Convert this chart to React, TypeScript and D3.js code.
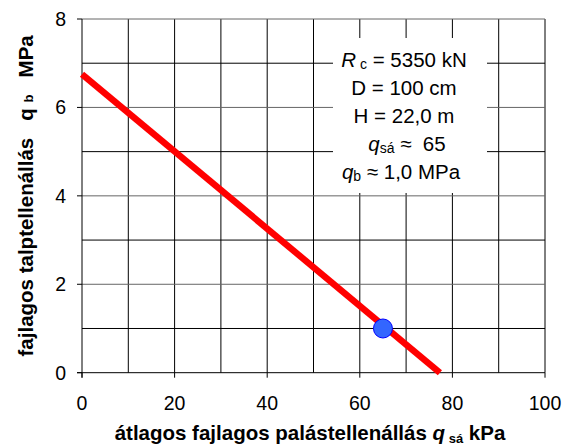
import React from 'react';
import * as d3 from 'd3';

// line: q_b vs q_sá
const lineX = [0, 77.3];
const lineY = [6.75, 0];
const pointX = [65];
const pointY = [1.0];
const xTicks = [0, 20, 40, 60, 80, 100];
const yTicks = [0, 2, 4, 6, 8];

const W = 571;
const H = 446;
const left = 82;
const right = 545;
const top = 19;
const bottom = 372.7;

export default function App() {
  const x = d3.scaleLinear().domain([0, 100]).range([left, right]);
  const y = d3.scaleLinear().domain([0, 8]).range([bottom, top]);
  const font = 'Liberation Sans, Arial, sans-serif';
  const line = d3.line<number>().x((d, i) => x(lineX[i])).y((d, i) => y(lineY[i]));

  const vGrid = d3.range(10, 101, 10);
  const hGrid = d3.range(1, 9, 1);

  return (
    <div style={{ position: 'absolute', left: 0, top: 0 }}>
      <svg width={W} height={H} style={{ display: 'block', fontFamily: font }}>
        <rect width={W} height={H} fill="#fff" />
        {vGrid.map(v => (
          <line key={'v' + v} x1={x(v)} x2={x(v)} y1={top} y2={bottom} stroke="#000" strokeWidth={1} />
        ))}
        {hGrid.map(v => (
          <line key={'h' + v} x1={left} x2={right} y1={y(v)} y2={y(v)} stroke={v % 2 === 0 ? '#666' : '#000'} strokeWidth={1} />
        ))}
        {/* axes */}
        <line x1={left} x2={left} y1={top} y2={bottom + 5} stroke="#000" />
        <line x1={left - 5} x2={right} y1={bottom} y2={bottom} stroke="#000" />
        {yTicks.map(t => (
          <g key={'yt' + t}>
            <line x1={left - 5} x2={left} y1={y(t)} y2={y(t)} stroke="#000" />
            <text x={left - 16} y={y(t)} dy="0.36em" textAnchor="end" fontSize={19.5}>{t}</text>
          </g>
        ))}
        {xTicks.map(t => (
          <g key={'xt' + t}>
            <line x1={x(t)} x2={x(t)} y1={bottom} y2={bottom + 5} stroke="#000" />
            <text x={x(t)} y={410} textAnchor="middle" fontSize={19.5}>{t}</text>
          </g>
        ))}
        {/* text box */}
        <rect x={333} y={38} width={154} height={155} fill="#fff" />
        <g fontSize={20.5} textAnchor="middle">
          <text x={404} y={67}><tspan fontStyle="italic">R</tspan><tspan fontSize={14} dy={2}> c</tspan><tspan dy={-2}> = 5350 kN</tspan></text>
          <text x={404} y={95}>D = 100 cm</text>
          <text x={404} y={123}>H = 22,0 m</text>
          <text x={407} y={151} style={{ whiteSpace: 'pre' }}><tspan fontStyle="italic">q</tspan><tspan fontSize={14} dy={2}>sá</tspan><tspan dy={-2}> ≈  65</tspan></text>
          <text x={401} y={179}><tspan fontStyle="italic">q</tspan><tspan fontSize={14} dy={2}>b</tspan><tspan dy={-2}> ≈ 1,0 MPa</tspan></text>
        </g>
        {/* series */}
        <path d={line(lineX) || ''} fill="none" stroke="#ff0000" strokeWidth={6.5} />
        {pointX.map((p, i) => (
          <circle key={i} cx={x(p)} cy={y(pointY[i])} r={9.5} fill="#3366ff" stroke="#0000ff" strokeWidth={1} />
        ))}
        {/* axis titles */}
        <text x={310} y={440} textAnchor="middle" fontSize={20.5} fontWeight="bold" style={{ whiteSpace: 'pre' }}>
          átlagos fajlagos palástellenállás <tspan fontStyle="italic">q</tspan><tspan fontSize={13} dy={3}> sá</tspan><tspan dy={-3}> kPa</tspan>
        </text>
        <text transform={`translate(${33},${(top + bottom) / 2}) rotate(-90)`} textAnchor="middle" fontSize={20.5} fontWeight="bold" style={{ whiteSpace: 'pre' }}>
          fajlagos talptellenállás   q <tspan fontSize={13}>b</tspan>   MPa
        </text>
      </svg>
    </div>
  );
}
